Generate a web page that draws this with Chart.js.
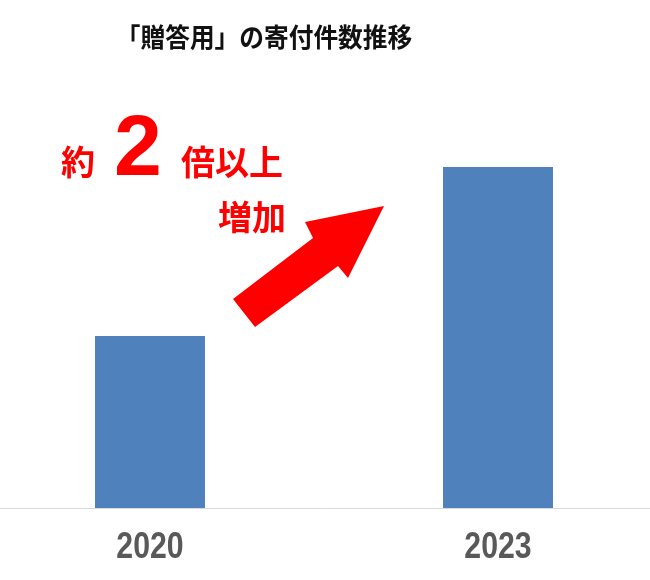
<!DOCTYPE html>
<html>
<head>
<meta charset="utf-8">
<script src="https://cdn.jsdelivr.net/npm/chart.js@4"></script>
<style>
  html, body { margin: 0; padding: 0; background: #ffffff; overflow: hidden; }
  #wrap { width: 650px; height: 580px; overflow: hidden; position: relative; }
  #c { position: absolute; left: -24px; top: 0; }
</style>
</head>
<body>
<div id="wrap"><canvas id="c" width="696" height="580"></canvas></div>
<script>
// ---- data ----
const categories = ["2020", "2023"];
const giftDonations = [172, 341];
const chartTitle = "「贈答用」の寄付件数推移";
const noteLine1 = ["約", "2", "倍以上"];
const noteLine2 = "増加";

const SHIFT = 24; // canvas is shifted left by this many px inside the 650px view

const overlay = {
  id: 'overlay',
  afterDraw(chart) {
    const ctx = chart.ctx;
    const xs = chart.scales.x;
    ctx.save();

    // category labels (positions from the library's x scale)
    ctx.fillStyle = '#595959';
    ctx.textAlign = 'center';
    ctx.textBaseline = 'middle';
    ctx.font = 'bold 36px "Liberation Sans"';
    xs.getLabels().forEach((lab, i) => {
      const px = xs.getPixelForTick(i);
      ctx.save();
      ctx.translate(px, 548);
      ctx.scale(0.84, 1);
      ctx.fillText(lab, 0, 0);
      ctx.restore();
    });

    ctx.translate(SHIFT, 0);

    // title
    ctx.fillStyle = '#111111';
    ctx.font = 'bold 26px "Noto Sans CJK JP"';
    ctx.textAlign = 'center';
    ctx.textBaseline = 'middle';
    ctx.save();
    ctx.translate(264, 37);
    ctx.scale(0.95, 1);
    ctx.fillText(chartTitle, 0, 0);
    ctx.restore();

    // red annotation text
    ctx.fillStyle = '#FF0000';
    ctx.textAlign = 'left';
    ctx.textBaseline = 'middle';
    ctx.font = 'bold 34px "Noto Sans CJK JP"';
    ctx.fillText(noteLine1[0], 61, 162);
    ctx.fillText(noteLine1[2], 181, 162);
    ctx.textAlign = 'right';
    ctx.fillText(noteLine2, 286, 217);
    ctx.textAlign = 'left';
    ctx.textBaseline = 'alphabetic';
    ctx.font = 'bold 86px "Liberation Sans"';
    ctx.fillText(noteLine1[1], 114, 175);

    // arrow
    ctx.beginPath();
    ctx.moveTo(233, 299);
    ctx.lineTo(313, 238);
    ctx.lineTo(305, 222);
    ctx.lineTo(384, 206);
    ctx.lineTo(348, 278);
    ctx.lineTo(338, 266);
    ctx.lineTo(255, 327);
    ctx.closePath();
    ctx.fill();
    ctx.restore();
  }
};

new Chart(document.getElementById('c'), {
  type: 'bar',
  data: {
    labels: categories,
    datasets: [{
      data: giftDonations,
      backgroundColor: '#4F81BD',
      borderWidth: 0,
      barPercentage: 1,
      categoryPercentage: 0.316
    }]
  },
  options: {
    responsive: false,
    animation: false,
    devicePixelRatio: 1,
    layout: { padding: { left: 0, right: 0, top: 100, bottom: 72 } },
    plugins: {
      legend: { display: false },
      title: { display: false },
      tooltip: { enabled: false }
    },
    scales: {
      x: {
        grid: { display: false, drawTicks: false },
        border: { display: true, color: '#D9D9D9', width: 1 },
        ticks: { display: false }
      },
      y: {
        display: false,
        min: 0,
        max: 408
      }
    }
  },
  plugins: [overlay]
});
</script>
</body>
</html>
